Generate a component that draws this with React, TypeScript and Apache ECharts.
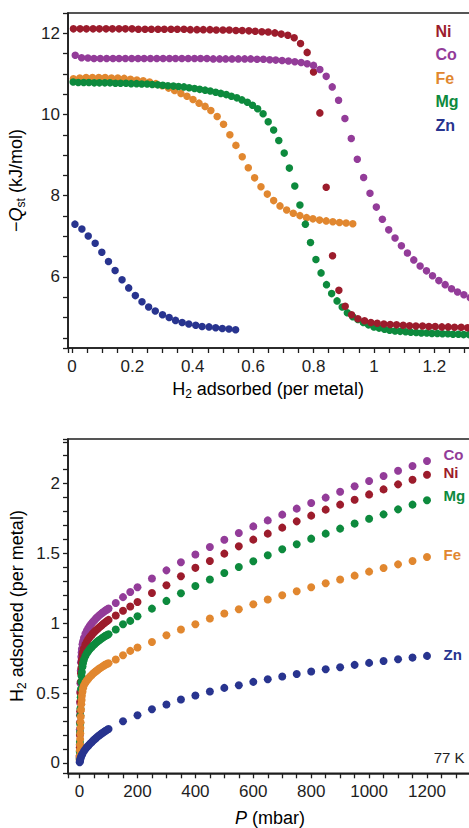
import { useEffect, useRef } from "react";
import * as echarts from "echarts";

// ---------- colours ----------
const COLORS: Record<string, string> = {
  Ni: "#9c1c2c",
  Co: "#933c99",
  Fe: "#e1872f",
  Mg: "#0d8a3d",
  Zn: "#28348f",
};

// ---------- top panel: -Qst (kJ/mol) vs H2 adsorbed (per metal) ----------
const qstNi: [number, number][] = [
  [0.005, 12.11], [0.027, 12.11], [0.048, 12.11], [0.07, 12.11], [0.091, 12.11], [0.113, 12.11],
  [0.134, 12.11], [0.156, 12.11], [0.177, 12.11], [0.199, 12.11], [0.22, 12.1], [0.242, 12.1],
  [0.263, 12.1], [0.285, 12.1], [0.306, 12.1], [0.328, 12.1], [0.349, 12.1], [0.371, 12.1],
  [0.392, 12.09], [0.414, 12.09], [0.435, 12.09], [0.457, 12.09], [0.478, 12.08], [0.5, 12.08],
  [0.521, 12.08], [0.543, 12.07], [0.564, 12.07], [0.586, 12.06], [0.607, 12.05], [0.629, 12.04],
  [0.65, 12.03], [0.672, 12.01], [0.693, 11.98], [0.715, 11.95], [0.736, 11.89], [0.757, 11.75],
  [0.779, 11.53], [0.8, 11.05], [0.821, 10.04], [0.842, 8.21], [0.863, 6.52], [0.884, 5.67],
  [0.905, 5.28], [0.926, 5.07], [0.947, 4.97], [0.969, 4.92], [0.99, 4.88], [1.011, 4.86],
  [1.033, 4.84], [1.054, 4.83], [1.075, 4.82], [1.097, 4.81], [1.118, 4.8], [1.139, 4.79],
  [1.161, 4.79], [1.182, 4.78], [1.203, 4.78], [1.225, 4.77], [1.246, 4.77], [1.267, 4.76],
  [1.289, 4.76], [1.31, 4.75], [1.331, 4.75],
];

const qstCo: [number, number][] = [
  [0.011, 11.46], [0.032, 11.4], [0.053, 11.39], [0.073, 11.38], [0.094, 11.38], [0.115, 11.38],
  [0.136, 11.38], [0.156, 11.38], [0.177, 11.38], [0.198, 11.38], [0.219, 11.38], [0.239, 11.38],
  [0.26, 11.38], [0.281, 11.38], [0.302, 11.38], [0.323, 11.38], [0.343, 11.38], [0.364, 11.38],
  [0.385, 11.38], [0.406, 11.38], [0.426, 11.38], [0.447, 11.38], [0.468, 11.37], [0.489, 11.37],
  [0.509, 11.37], [0.53, 11.37], [0.551, 11.37], [0.572, 11.37], [0.592, 11.37], [0.613, 11.36],
  [0.634, 11.36], [0.655, 11.35], [0.675, 11.34], [0.696, 11.33], [0.717, 11.32], [0.738, 11.3],
  [0.759, 11.28], [0.779, 11.25], [0.8, 11.21], [0.821, 11.11], [0.842, 10.94], [0.862, 10.68],
  [0.883, 10.35], [0.904, 9.9], [0.925, 9.41], [0.945, 8.9], [0.966, 8.45], [0.987, 8.06],
  [1.008, 7.72], [1.028, 7.42], [1.049, 7.16], [1.07, 6.96], [1.091, 6.77], [1.111, 6.59],
  [1.132, 6.42], [1.153, 6.27], [1.174, 6.15], [1.194, 6.03], [1.215, 5.91], [1.236, 5.81],
  [1.257, 5.71], [1.277, 5.63], [1.298, 5.56], [1.319, 5.49], [1.34, 5.43],
];

const qstFe: [number, number][] = [
  [0.005, 10.88], [0.026, 10.9], [0.047, 10.91], [0.068, 10.91], [0.089, 10.91], [0.11, 10.91],
  [0.131, 10.9], [0.152, 10.9], [0.173, 10.89], [0.194, 10.87], [0.215, 10.85], [0.236, 10.83],
  [0.257, 10.8], [0.278, 10.76], [0.299, 10.71], [0.32, 10.65], [0.34, 10.59], [0.361, 10.52],
  [0.381, 10.45], [0.401, 10.37], [0.421, 10.28], [0.441, 10.2], [0.46, 10.1], [0.481, 9.95],
  [0.502, 9.76], [0.523, 9.5], [0.543, 9.24], [0.564, 8.96], [0.584, 8.69], [0.605, 8.44],
  [0.626, 8.22], [0.647, 8.04], [0.668, 7.88], [0.689, 7.75], [0.711, 7.65], [0.733, 7.57],
  [0.755, 7.51], [0.777, 7.46], [0.798, 7.43], [0.82, 7.4], [0.842, 7.38], [0.864, 7.36],
  [0.886, 7.34], [0.908, 7.33], [0.93, 7.31],
];

const qstMg: [number, number][] = [
  [0.004, 10.8], [0.021, 10.79], [0.039, 10.79], [0.056, 10.79], [0.074, 10.78], [0.091, 10.78],
  [0.109, 10.78], [0.126, 10.78], [0.144, 10.77], [0.161, 10.77], [0.179, 10.77], [0.196, 10.76],
  [0.214, 10.76], [0.231, 10.75], [0.249, 10.75], [0.266, 10.74], [0.284, 10.73], [0.301, 10.72],
  [0.318, 10.71], [0.336, 10.7], [0.353, 10.69], [0.371, 10.68], [0.388, 10.66], [0.406, 10.64],
  [0.423, 10.62], [0.441, 10.6], [0.458, 10.58], [0.476, 10.55], [0.493, 10.52], [0.511, 10.49],
  [0.528, 10.45], [0.546, 10.41], [0.563, 10.36], [0.581, 10.3], [0.598, 10.23], [0.615, 10.14],
  [0.633, 10.02], [0.65, 9.82], [0.668, 9.62], [0.685, 9.36], [0.703, 9.05], [0.72, 8.68],
  [0.738, 8.24], [0.755, 7.77], [0.773, 7.3], [0.79, 6.85], [0.808, 6.43], [0.825, 6.1],
  [0.843, 5.81], [0.86, 5.59], [0.878, 5.41], [0.895, 5.26], [0.912, 5.12], [0.93, 5.02],
  [0.947, 4.95], [0.965, 4.88], [0.982, 4.82], [1.0, 4.77], [1.017, 4.74], [1.035, 4.71],
  [1.052, 4.69], [1.07, 4.67], [1.087, 4.66], [1.105, 4.65], [1.122, 4.64], [1.14, 4.63],
  [1.157, 4.62], [1.175, 4.62], [1.192, 4.61], [1.21, 4.61], [1.227, 4.6], [1.245, 4.6],
  [1.262, 4.59], [1.28, 4.59], [1.297, 4.58], [1.315, 4.58], [1.332, 4.57],
];

const qstZn: [number, number][] = [
  [0.01, 7.3], [0.033, 7.18], [0.054, 7.01], [0.077, 6.83], [0.099, 6.61], [0.121, 6.38],
  [0.143, 6.16], [0.166, 5.93], [0.188, 5.73], [0.21, 5.54], [0.232, 5.39], [0.254, 5.26],
  [0.276, 5.16], [0.3, 5.07], [0.322, 5.0], [0.343, 4.93], [0.365, 4.88], [0.387, 4.84],
  [0.41, 4.81], [0.431, 4.78], [0.454, 4.77], [0.476, 4.75], [0.498, 4.73], [0.52, 4.72],
  [0.542, 4.7],
];

// ---------- bottom panel: H2 adsorbed (per metal) vs P (mbar), 77 K ----------
const isoCo: [number, number][] = [
  [0.2, 0.05], [0.5, 0.13], [1, 0.24], [1.5, 0.34], [2, 0.43], [2.5, 0.51], [3, 0.57], [4, 0.66],
  [5, 0.72], [6, 0.76], [7, 0.79], [8, 0.815], [10, 0.85], [12, 0.87], [15, 0.895], [20, 0.925],
  [25, 0.947], [30, 0.965], [35, 0.98], [40, 0.994], [45, 1.007], [50, 1.019], [55, 1.03],
  [60, 1.041], [65, 1.051], [70, 1.06], [75, 1.069], [80, 1.077], [85, 1.085], [90, 1.092],
  [95, 1.099], [100, 1.106], [125, 1.145], [150, 1.187], [175, 1.224], [200, 1.258],
  [250, 1.32], [300, 1.379], [350, 1.437], [400, 1.492], [450, 1.546], [500, 1.598],
  [550, 1.646], [600, 1.694], [650, 1.737], [700, 1.778], [750, 1.821], [800, 1.861],
  [850, 1.9], [900, 1.942], [950, 1.981], [1000, 2.019], [1050, 2.055], [1100, 2.092],
  [1150, 2.127], [1200, 2.162],
];

const isoNi: [number, number][] = [
  [0.2, 0.04], [0.5, 0.11], [1, 0.2], [1.5, 0.29], [2, 0.37], [2.5, 0.44], [3, 0.5], [4, 0.58],
  [5, 0.64], [6, 0.68], [7, 0.715], [8, 0.74], [10, 0.775], [12, 0.795], [15, 0.82], [20, 0.848],
  [25, 0.868], [30, 0.885], [35, 0.9], [40, 0.913], [45, 0.925], [50, 0.936], [55, 0.946],
  [60, 0.956], [65, 0.965], [70, 0.974], [75, 0.983], [80, 0.992], [85, 1.0], [90, 1.008],
  [95, 1.016], [100, 1.024], [125, 1.055], [150, 1.09], [175, 1.12], [200, 1.152],
  [250, 1.217], [300, 1.272], [350, 1.337], [400, 1.397], [450, 1.446], [500, 1.499],
  [550, 1.551], [600, 1.599], [650, 1.642], [700, 1.685], [750, 1.73], [800, 1.771],
  [850, 1.814], [900, 1.85], [950, 1.885], [1000, 1.923], [1050, 1.959], [1100, 1.995],
  [1150, 2.028], [1200, 2.064],
];

const isoMg: [number, number][] = [
  [0.2, 0.03], [0.5, 0.08], [1, 0.15], [1.5, 0.22], [2, 0.28], [2.5, 0.34], [3, 0.39], [4, 0.47],
  [5, 0.53], [6, 0.58], [7, 0.62], [8, 0.65], [10, 0.69], [12, 0.715], [15, 0.74], [20, 0.765],
  [25, 0.785], [30, 0.8], [35, 0.814], [40, 0.826], [45, 0.837], [50, 0.847], [55, 0.857],
  [60, 0.866], [65, 0.874], [70, 0.882], [75, 0.89], [80, 0.897], [85, 0.904], [90, 0.91],
  [95, 0.916], [100, 0.921], [125, 0.955], [150, 0.993], [175, 1.017], [200, 1.05],
  [250, 1.105], [300, 1.16], [350, 1.215], [400, 1.267], [450, 1.313], [500, 1.36],
  [550, 1.403], [600, 1.444], [650, 1.487], [700, 1.53], [750, 1.566], [800, 1.606],
  [850, 1.642], [900, 1.678], [950, 1.714], [1000, 1.749], [1050, 1.78], [1100, 1.816],
  [1150, 1.85], [1200, 1.881],
];

const isoFe: [number, number][] = [
  [0.2, 0.02], [0.5, 0.05], [1, 0.09], [1.5, 0.13], [2, 0.17], [2.5, 0.21], [3, 0.25], [3.5, 0.29],
  [4, 0.33], [5, 0.38], [6, 0.42], [7, 0.45], [8, 0.48], [10, 0.51], [12, 0.535], [15, 0.555],
  [20, 0.575], [25, 0.59], [30, 0.603], [35, 0.615], [40, 0.626], [45, 0.636], [50, 0.645],
  [55, 0.654], [60, 0.662], [65, 0.67], [70, 0.677], [75, 0.684], [80, 0.691], [85, 0.698],
  [90, 0.704], [95, 0.709], [100, 0.713], [125, 0.74], [150, 0.771], [175, 0.802], [200, 0.826],
  [250, 0.866], [300, 0.914], [350, 0.955], [400, 0.993], [450, 1.034], [500, 1.07],
  [550, 1.1], [600, 1.136], [650, 1.17], [700, 1.2], [750, 1.229], [800, 1.258],
  [850, 1.286], [900, 1.313], [950, 1.341], [1000, 1.37], [1050, 1.396], [1100, 1.422],
  [1150, 1.446], [1200, 1.475],
];

const isoZn: [number, number][] = [
  [0.3, 0.004], [1, 0.012], [2, 0.021], [3, 0.029], [5, 0.042], [7.5, 0.055], [10, 0.066],
  [15, 0.083], [20, 0.098], [25, 0.111], [30, 0.123], [35, 0.134], [40, 0.145], [45, 0.155],
  [50, 0.165], [55, 0.174], [60, 0.183], [65, 0.192], [70, 0.2], [75, 0.208], [80, 0.216],
  [85, 0.223], [90, 0.23], [95, 0.236], [100, 0.242], [150, 0.298], [200, 0.341], [250, 0.384],
  [300, 0.418], [350, 0.454], [400, 0.482], [450, 0.511], [500, 0.537], [550, 0.556],
  [600, 0.58], [650, 0.599], [700, 0.618], [750, 0.637], [800, 0.654], [850, 0.671],
  [900, 0.685], [950, 0.702], [1000, 0.716], [1050, 0.73], [1100, 0.742], [1150, 0.754],
  [1200, 0.766],
];

// ---------- tick labels ----------
const loadingTicks = [0, 0.2, 0.4, 0.6, 0.8, 1, 1.2];
const qstTicks = [6, 8, 10, 12];
const pressureTicks = [0, 200, 400, 600, 800, 1000, 1200];
const uptakeTicks = [0, 0.5, 1, 1.5, 2];

const legendTop = ["Ni", "Co", "Fe", "Mg", "Zn"];
const topDrawOrder: [string, [number, number][]][] = [
  ["Fe", qstFe],
  ["Mg", qstMg],
  ["Ni", qstNi],
  ["Co", qstCo],
  ["Zn", qstZn],
];
const bottomDrawOrder: [string, [number, number][]][] = [
  ["Co", isoCo],
  ["Ni", isoNi],
  ["Mg", isoMg],
  ["Fe", isoFe],
  ["Zn", isoZn],
];
// vertical nudge of each end label in the bottom panel (px)
const endLabelNudge: Record<string, number> = { Co: -7, Ni: -2, Mg: -5, Fe: -2, Zn: -1 };

const FONT = "'Liberation Sans', Arial, Helvetica, sans-serif";
const INK = "#1e1e1e";

function tickFormatter(ticks: number[]) {
  return (v: number) => {
    const hit = ticks.find((t) => Math.abs(t - v) < 1e-6);
    return hit === undefined ? "" : String(hit);
  };
}

function axisBase(ticks: number[], margin: number) {
  return {
    type: "value" as const,
    axisLine: { show: true, onZero: false, lineStyle: { color: INK, width: 1.6 } },
    axisTick: { show: true, inside: false, length: 5, lineStyle: { color: INK, width: 1.3 } },
    splitLine: { show: false },
    minorTick: { show: false },
    axisLabel: {
      show: true,
      color: INK,
      fontSize: 17,
      fontFamily: FONT,
      margin,
      formatter: tickFormatter(ticks),
      showMinLabel: true,
      showMaxLabel: true,
    },
  };
}

export default function App() {
  const ref = useRef<HTMLDivElement>(null);

  useEffect(() => {
    if (!ref.current) return;
    const chart = echarts.init(ref.current, null, { renderer: "svg" });

    const topSeries = topDrawOrder.map(([name, data]) => ({
      name,
      type: "scatter",
      xAxisIndex: 0,
      yAxisIndex: 0,
      data,
      symbol: "circle",
      symbolSize: 7.5,
      itemStyle: { color: COLORS[name], opacity: 1 },
      emphasis: { disabled: true },
      silent: true,
    }));

    const bottomSeries = bottomDrawOrder.map(([name, data]) => ({
      name,
      type: "scatter",
      xAxisIndex: 1,
      yAxisIndex: 1,
      data: data.map((p, i) =>
        i === data.length - 1
          ? {
              value: p,
              label: {
                show: true,
                position: "right",
                distance: 12.5,
                offset: [0, endLabelNudge[name]],
                formatter: name,
                color: COLORS[name],
                fontWeight: "bold",
                fontSize: 15,
                fontFamily: FONT,
              },
            }
          : p
      ),
      symbol: "circle",
      symbolSize: 8,
      itemStyle: { color: COLORS[name], opacity: 1 },
      emphasis: { disabled: true },
      silent: true,
    }));

    const titleRich = {
      m: { fontSize: 18, fontFamily: FONT, color: INK, lineHeight: 22 },
      q: { fontSize: 18, fontFamily: FONT, color: INK, fontStyle: "italic", lineHeight: 22 },
      s: { fontSize: 12, fontFamily: FONT, color: INK, lineHeight: 12, verticalAlign: "bottom" },
    };
    const plainTitleRich = {
      m: { fontSize: 18, fontFamily: FONT, color: INK, lineHeight: 16 },
      q: { fontSize: 18, fontFamily: FONT, color: INK, fontStyle: "italic", lineHeight: 16 },
    };

    const option = {
      animation: false,
      backgroundColor: "#ffffff",
      textStyle: { fontFamily: FONT },
      grid: [
        {
          left: 68,
          top: 13,
          width: 426.7,
          height: 335,
          show: true,
          borderColor: INK,
          borderWidth: 1.6,
          backgroundColor: "transparent",
          containLabel: false,
          outerBoundsMode: "none",
        },
        {
          left: 68,
          top: 439,
          width: 416.9,
          height: 334.3,
          show: true,
          borderColor: INK,
          borderWidth: 1.6,
          backgroundColor: "transparent",
          containLabel: false,
          outerBoundsMode: "none",
        },
      ],
      xAxis: [
        {
          ...axisBase(loadingTicks, 10),
          gridIndex: 0,
          min: -0.013,
          max: 1.4,
          minInterval: 0.05,
          maxInterval: 0.05,
        },
        {
          ...axisBase(pressureTicks, 10),
          gridIndex: 1,
          min: -40,
          max: 1400,
          minInterval: 50,
          maxInterval: 50,
        },
      ],
      yAxis: [
        {
          ...axisBase(qstTicks, 8),
          gridIndex: 0,
          min: 4.25,
          max: 12.5,
          minInterval: 0.5,
          maxInterval: 0.5,
        },
        {
          ...axisBase(uptakeTicks, 8),
          gridIndex: 1,
          min: -0.075,
          max: 2.32,
          minInterval: 0.1,
          maxInterval: 0.1,
        },
      ],
      series: [...topSeries, ...bottomSeries],
      graphic: [
        // top panel legend
        ...legendTop.map((name, i) => ({
          type: "text",
          x: 435.5,
          y: 31 + i * 23.5,
          silent: true,
          style: {
            text: name,
            fill: COLORS[name],
            fontSize: 16,
            fontWeight: "bold",
            fontFamily: FONT,
            align: "left",
            verticalAlign: "middle",
          },
        })),
        // top x title
        {
          type: "text",
          x: 268,
          y: 389,
          silent: true,
          style: {
            text: "{m|H}{s|2}{m| adsorbed (per metal)}",
            rich: titleRich,
            align: "center",
            verticalAlign: "middle",
          },
        },
        // top y title
        {
          type: "text",
          x: 16,
          y: 180.5,
          rotation: Math.PI / 2,
          silent: true,
          style: {
            text: "{m|\u2212}{q|Q}{s|st}{m| (kJ/mol)}",
            rich: titleRich,
            align: "center",
            verticalAlign: "middle",
          },
        },
        // bottom x title
        {
          type: "text",
          x: 270,
          y: 818,
          silent: true,
          style: {
            text: "{q|P}{m| (mbar)}",
            rich: plainTitleRich,
            align: "center",
            verticalAlign: "middle",
          },
        },
        // bottom y title
        {
          type: "text",
          x: 17,
          y: 606,
          rotation: Math.PI / 2,
          silent: true,
          style: {
            text: "{m|H}{s|2}{m| adsorbed (per metal)}",
            rich: titleRich,
            align: "center",
            verticalAlign: "middle",
          },
        },
        // temperature note
        {
          type: "text",
          x: 464.5,
          y: 757.5,
          silent: true,
          style: {
            text: "77 K",
            fill: INK,
            fontSize: 15,
            fontFamily: FONT,
            align: "right",
            verticalAlign: "middle",
          },
        },
      ],
    };

    chart.setOption(option as any);
    return () => chart.dispose();
  }, []);

  return (
    <div
      style={{
        position: "fixed",
        left: 0,
        top: 0,
        width: 469,
        height: 828,
        overflow: "hidden",
        background: "#fff",
      }}
    >
      <div ref={ref} style={{ width: 520, height: 828 }} />
    </div>
  );
}
